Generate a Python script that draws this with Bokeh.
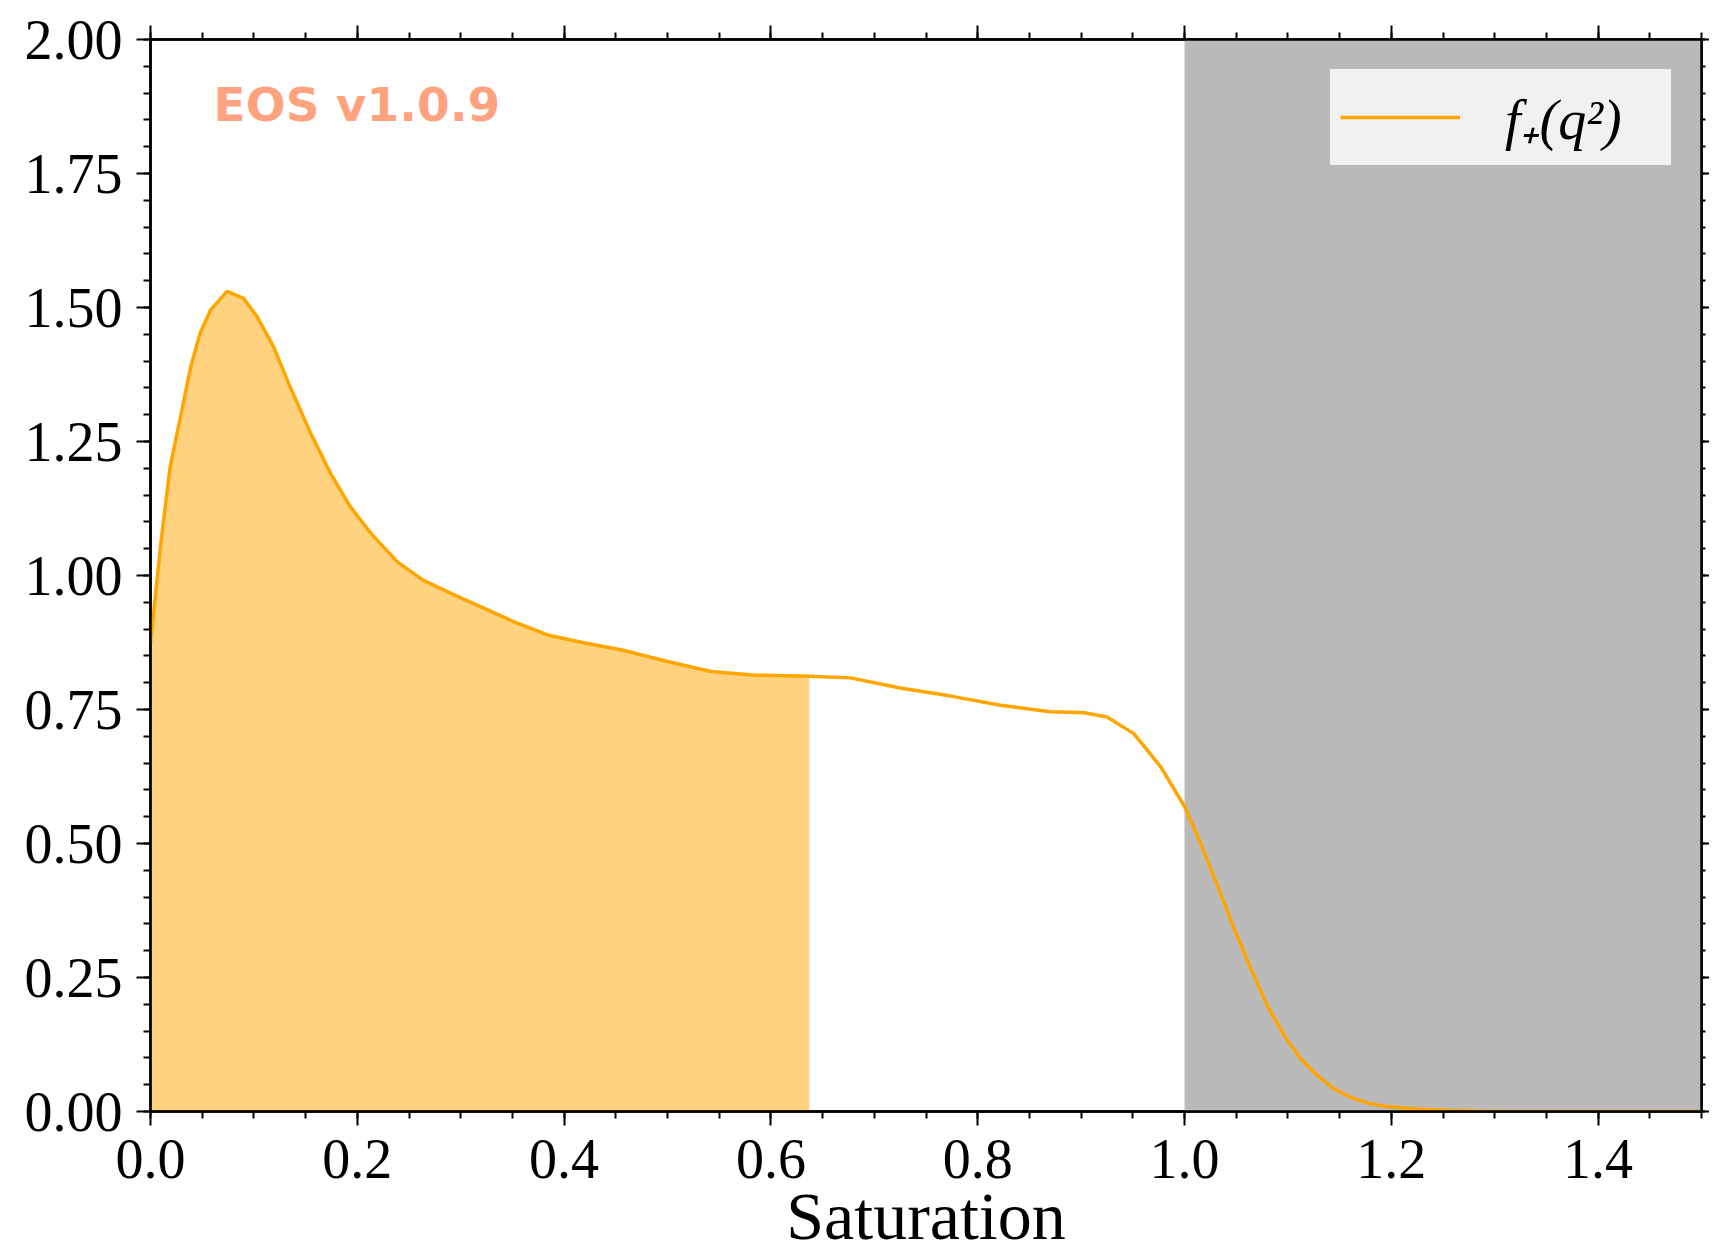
from bokeh.plotting import figure
from bokeh.models import (LinearAxis, FixedTicker, NumeralTickFormatter, CustomJSTickFormatter,
                          BoxAnnotation, Label, Legend, LegendItem, Range1d)
from bokeh.embed import file_html
from bokeh.resources import INLINE

# ---- data ----
saturation = [0.000, 0.010, 0.019, 0.029, 0.039, 0.048, 0.058, 0.074, 0.090, 0.103,
              0.119, 0.135, 0.155, 0.174, 0.193, 0.213, 0.239, 0.264, 0.290, 0.319,
              0.351, 0.384, 0.420, 0.456, 0.499, 0.542, 0.585, 0.637, 0.677, 0.725,
              0.774, 0.822, 0.870, 0.903, 0.925, 0.951, 0.977, 1.000, 1.015, 1.032,
              1.048, 1.064, 1.080, 1.096, 1.112, 1.128, 1.144, 1.161, 1.177, 1.193,
              1.220, 1.260, 1.300, 1.400, 1.500]
f_plus = [0.874, 1.060, 1.203, 1.296, 1.390, 1.452, 1.495, 1.530, 1.517, 1.483,
          1.427, 1.352, 1.265, 1.191, 1.129, 1.079, 1.025, 0.991, 0.967, 0.942,
          0.914, 0.889, 0.874, 0.861, 0.840, 0.821, 0.814, 0.812, 0.809, 0.790,
          0.775, 0.758, 0.746, 0.744, 0.736, 0.705, 0.643, 0.569, 0.503, 0.421,
          0.341, 0.267, 0.198, 0.143, 0.099, 0.068, 0.043, 0.026, 0.016, 0.010,
          0.005, 0.002, 0.000, 0.000, 0.000]
fill_end = 0.637          # shaded area ends here
invalid_start = 1.0       # grey region starts here
x_ticks = [0.0, 0.2, 0.4, 0.6, 0.8, 1.0, 1.2, 1.4]
x_minor = [round(0.05 * i, 2) for i in range(0, 31)]
y_ticks = [0.0, 0.25, 0.5, 0.75, 1.0, 1.25, 1.5, 1.75, 2.0]
y_minor = [round(0.05 * i, 2) for i in range(0, 41)]
legend_label = "f\u208a(q\u00b2)"
watermark = "EOS v1.0.9"
x_label = "Saturation"

fill_x = [x for x in saturation if x <= fill_end]
fill_y = [y for x, y in zip(saturation, f_plus) if x <= fill_end]

SERIF = "Liberation Serif"
LEGEND_BG = "#f1f1f1"
LEGEND_PAD = 10

p = figure(frame_width=1551, frame_height=1072,
           x_range=Range1d(0, 1.5), y_range=Range1d(0, 2.0),
           output_backend="svg", toolbar_location=None,
           min_border_left=150, min_border_top=39, min_border_right=0, min_border_bottom=0,
           background_fill_color="white", border_fill_color="white")
p.grid.visible = False
p.outline_line_color = "black"
p.outline_line_width = 2.5

grey = BoxAnnotation(left=invalid_start, fill_color="#bababa", fill_alpha=1.0,
                     line_color=None, level="underlay")
p.add_layout(grey)

p.varea(x=fill_x, y1=[0] * len(fill_x), y2=fill_y, fill_color="orange", fill_alpha=0.5)
ln = p.line(saturation, f_plus, line_color="orange", line_width=3.5)

wm = Label(x=0.061, y=1.879, text=watermark, text_font="DejaVu Sans", text_font_style="bold",
           text_font_size="47px", text_color="orangered", text_alpha=0.5,
           text_baseline="alphabetic")
p.add_layout(wm)


def style_axis(ax, ticks, minor, hide=False, tick_out=14, minor_out=7):
    ax.ticker = FixedTicker(ticks=ticks, minor_ticks=minor)
    ax.axis_line_color = "black"
    ax.axis_line_width = 2.5
    ax.major_tick_in = 0
    ax.minor_tick_in = 0
    ax.major_tick_out = tick_out
    ax.minor_tick_out = minor_out
    ax.major_tick_line_width = 2
    ax.minor_tick_line_width = 2
    ax.major_tick_line_color = "black"
    ax.minor_tick_line_color = "black"
    if hide:
        ax.formatter = CustomJSTickFormatter(code="return ''")
        ax.major_label_text_font_size = "0px"
        ax.major_label_standoff = 0
    else:
        ax.major_label_text_font = SERIF
        ax.major_label_text_font_size = "56px"
        ax.major_label_text_color = "black"


xa = p.xaxis[0]
style_axis(xa, x_ticks, x_minor)
xa.formatter = NumeralTickFormatter(format="0.0")
xa.major_label_standoff = 14
xa.axis_label = x_label
xa.axis_label_text_font = SERIF
xa.axis_label_text_font_size = "68px"
xa.axis_label_text_font_style = "normal"
xa.axis_label_text_color = "black"
xa.axis_label_standoff = -3

ya = p.yaxis[0]
style_axis(ya, y_ticks, y_minor)
ya.formatter = NumeralTickFormatter(format="0.00")
ya.major_label_standoff = 14

top = LinearAxis()
style_axis(top, x_ticks, x_minor, hide=True)
p.add_layout(top, "above")

right = LinearAxis()
style_axis(right, y_ticks, y_minor, hide=True, tick_out=8, minor_out=4)
p.add_layout(right, "right")

# a thick border of the same colour as the legend background acts as its padding
legend = Legend(items=[LegendItem(label=legend_label, renderers=[ln])],
                location="top_right", margin=30, padding=0, spacing=0,
                glyph_width=120, glyph_height=50, label_standoff=45,
                label_width=156,
                label_text_font=SERIF, label_text_font_style="italic",
                label_text_font_size="56px", label_text_color="black",
                background_fill_color=LEGEND_BG, background_fill_alpha=1.0,
                border_line_color=LEGEND_BG, border_line_width=LEGEND_PAD,
                border_line_join="miter")
p.add_layout(legend)

open("out.html", "w").write(file_html(p, INLINE))
